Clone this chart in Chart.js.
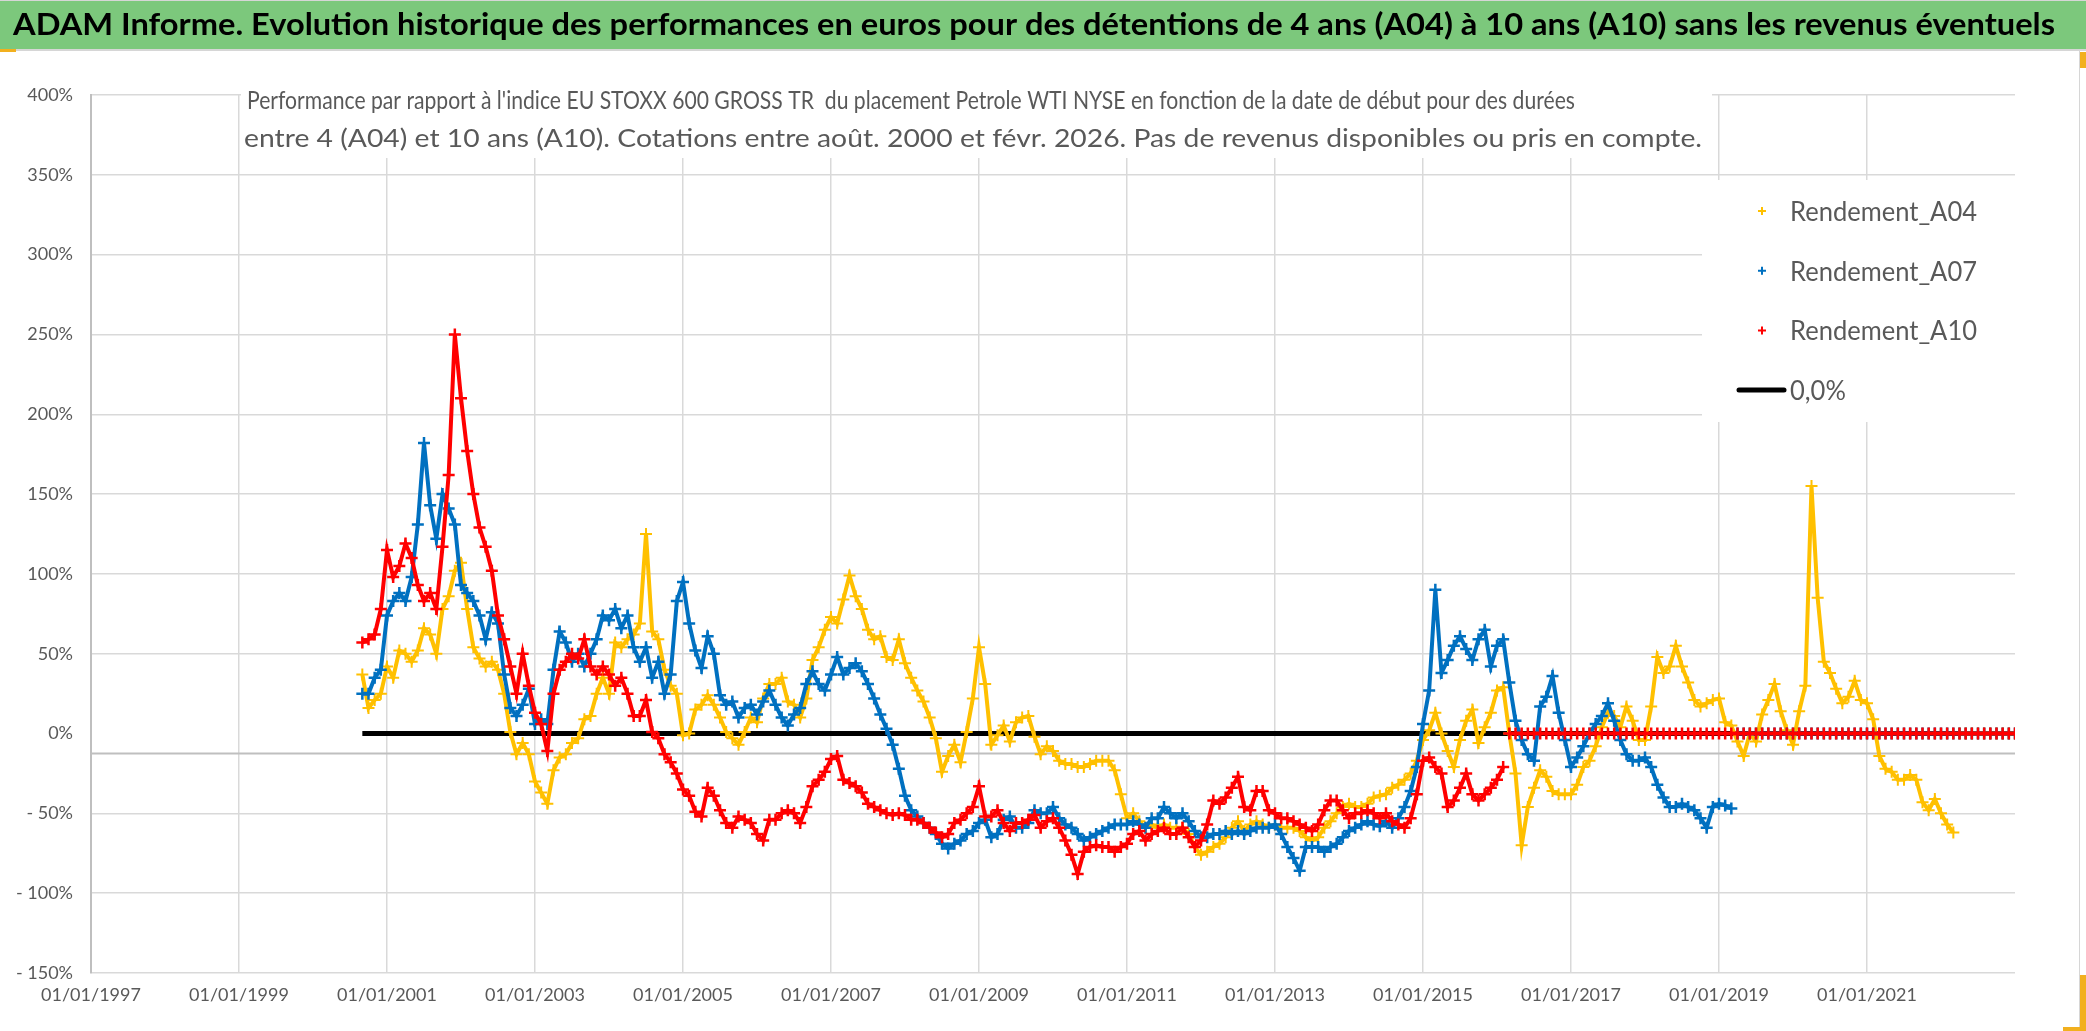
<!DOCTYPE html>
<html>
<head>
<meta charset="utf-8">
<script src="https://cdn.jsdelivr.net/npm/chart.js@4/dist/chart.umd.min.js"></script>
<style>
  html, body { margin: 0; padding: 0; background: #fff; }
  canvas { display: block; }
</style>
</head>
<body>
<canvas id="chart" width="2086" height="1031"></canvas>
<script>
// ─── Data (monthly readings, first value = Sept. 2000) ─────
const firstMonth = [2000, 9];
const xMin = 1997, xMax = 2023;
const xTickYears = [1997, 1999, 2001, 2003, 2005, 2007, 2009, 2011, 2013, 2015, 2017, 2019, 2021];
const yTicks = [-150, -100, -50, 0, 50, 100, 150, 200, 250, 300, 350, 400];

const a04 = [
  37, 16, 21, 25,
  42, 35, 52, 50, 45, 52, 66, 62, 50, 78, 86, 102,
  107, 78, 54, 47, 42, 45, 40, 25, 1, -13, -6, -13,
  -30, -37, -44, -23, -15, -13, -6, -3, 9, 11, 25, 35,
  25, 57, 54, 59, 62, 69, 125, 64, 59, 40, 30, 25,
  -1, 0, 15, 18, 24, 18, 10, 1, -3, -7, 1, 10,
  7, 22, 31, 31, 35, 20, 18, 10, 22, 46, 54, 65,
  73, 69, 84, 99, 86, 78, 65, 59, 61, 48, 46, 59,
  44, 35, 27, 20, 10, -3, -24, -14, -7, -18, 1, 22,
  54, 31, -7, -1, 5, -5, 7, 10, 11, -2, -13, -8,
  -11, -17, -19, -19, -21, -21, -19, -17, -17, -17, -23, -38,
  -53, -50, -55, -59, -57, -59, -57, -59, -59, -59, -63, -71,
  -76, -74, -71, -69, -65, -59, -55, -61, -57, -55, -57, -59,
  -57, -59, -59, -59, -61, -65, -67, -65, -59, -55, -50, -46,
  -44, -46, -46, -44, -40, -39, -38, -34, -32, -29, -25, -17,
  -4, 2, 13, 0, -11, -21, -4, 8, 15, -6, 4, 13,
  27, 29, 0, -25, -70, -46, -34, -23, -27, -36, -38, -38,
  -38, -32, -21, -17, -8, 4, 13, 11, 4, 17, 8, -4,
  -4, 17, 48, 38, 42, 55, 42, 32, 21, 17, 19, 21,
  22, 7, 5, -5, -14, 0, -5, 12, 21, 31, 14, 2,
  -7, 14, 30, 155, 85, 45, 38, 28, 19, 23, 33, 21,
  19, 9, -14, -22, -24, -29, -29, -26, -29, -43, -48, -41,
  -50, -57, -62, 0, 0, 0, 0, 0, 0, 0, 0, 0,
  0
];

const a07 = [
  25, 25, 35, 40,
  74, 83, 88, 83, 98, 131, 182, 143, 122, 150, 141, 131,
  93, 88, 83, 74, 59, 76, 69, 37, 16, 11, 18, 28,
  6, 9, 6, 40, 64, 57, 45, 50, 42, 50, 59, 74,
  71, 78, 66, 74, 54, 45, 54, 35, 45, 25, 37, 83,
  95, 69, 52, 41, 61, 50, 24, 18, 20, 10, 16, 18,
  12, 20, 27, 18, 10, 5, 12, 16, 31, 39, 31, 27,
  37, 48, 37, 41, 44, 39, 31, 22, 12, 3, -7, -22,
  -39, -48, -52, -56, -59, -63, -69, -72, -69, -67, -63, -61,
  -56, -54, -65, -63, -54, -52, -59, -59, -56, -48, -50, -50,
  -46, -53, -57, -59, -63, -67, -65, -63, -61, -59, -57, -57,
  -57, -55, -57, -59, -53, -53, -46, -50, -53, -50, -55, -61,
  -65, -65, -63, -63, -61, -63, -61, -63, -61, -59, -59, -59,
  -57, -63, -71, -78, -86, -71, -71, -71, -74, -71, -69, -65,
  -61, -59, -57, -55, -57, -58, -55, -59, -53, -46, -36, -21,
  6, 27, 90, 38, 46, 55, 61, 53, 46, 59, 65, 42,
  55, 59, 32, 8, -4, -13, -17, 17, 23, 36, 13, -4,
  -21, -15, -8, 0, 6, 11, 19, 8, -4, -13, -17, -17,
  -15, -21, -32, -40, -46, -46, -44, -46, -48, -53, -59, -46,
  -44, -45, -47, 0, 0, 0, 0, 0, 0, 0, 0, 0,
  0, 0, 0, 0, 0, 0, 0, 0, 0, 0, 0, 0,
  0, 0, 0, 0, 0, 0, 0, 0, 0, 0, 0, 0,
  0, 0, 0, 0, 0, 0, 0, 0, 0, 0, 0, 0,
  0
];

const a10 = [
  57, 59, 62, 78,
  115, 98, 105, 119, 110, 93, 83, 88, 78, 117, 162, 250,
  210, 177, 150, 129, 117, 102, 74, 59, 42, 25, 50, 30,
  13, 6, -11, 25, 40, 45, 50, 47, 59, 42, 37, 42,
  37, 30, 35, 25, 11, 11, 21, 1, -3, -13, -18, -25,
  -35, -39, -49, -52, -34, -39, -48, -56, -59, -52, -54, -56,
  -63, -67, -54, -54, -50, -48, -50, -56, -46, -33, -29, -24,
  -16, -14, -29, -31, -33, -37, -44, -46, -48, -50, -51, -50,
  -51, -54, -54, -56, -59, -62, -65, -63, -56, -54, -50, -46,
  -33, -52, -52, -48, -56, -61, -56, -56, -54, -51, -59, -55,
  -53, -59, -67, -76, -88, -74, -71, -70, -71, -71, -74, -71,
  -69, -63, -61, -67, -63, -61, -59, -63, -63, -59, -65, -71,
  -67, -57, -42, -44, -40, -34, -27, -46, -48, -36, -36, -48,
  -50, -53, -53, -55, -57, -59, -61, -57, -48, -42, -42, -48,
  -53, -50, -50, -48, -50, -53, -50, -55, -57, -59, -53, -38,
  -17, -15, -21, -25, -46, -42, -34, -25, -38, -42, -38, -34,
  -29, -21, 0, 0, 0, 0, 0, 0, 0, 0, 0, 0,
  0, 0, 0, 0, 0, 0, 0, 0, 0, 0, 0, 0,
  0, 0, 0, 0, 0, 0, 0, 0, 0, 0, 0, 0,
  0, 0, 0, 0, 0, 0, 0, 0, 0, 0, 0, 0,
  0, 0, 0, 0, 0, 0, 0, 0, 0, 0, 0, 0,
  0, 0, 0, 0, 0, 0, 0, 0, 0, 0, 0, 0,
  0, 0, 0, 0, 0, 0, 0, 0, 0, 0, 0, 0,
  0
];

const zeroLine = [0, 0];

const TITLE = "ADAM Informe. Evolution historique des performances en euros pour des détentions de 4 ans (A04) à 10 ans (A10) sans les revenus éventuels";
const SUBTITLE = [
  "Performance par rapport à l'indice EU STOXX 600 GROSS TR  du placement Petrole WTI NYSE en fonction de la date de début pour des durées",
  "entre 4 (A04) et 10 ans (A10). Cotations entre août. 2000 et févr. 2026. Pas de revenus disponibles ou pris en compte."
];

const COLORS = { a04: '#FFC000', a07: '#0070C0', a10: '#FF0000', zero: '#000000' };
const legendItems = [
  { label: 'Rendement_A04', color: COLORS.a04, type: 'cross' },
  { label: 'Rendement_A07', color: COLORS.a07, type: 'cross' },
  { label: 'Rendement_A10', color: COLORS.a10, type: 'cross' },
  { label: '0,0%', color: COLORS.zero, type: 'line' },
];

// ─── Helpers ───────────────────────────────────────────────
const monthX = i => firstMonth[0] + (firstMonth[1] - 1 + i) / 12;
const toPoints = arr => arr.map((v, i) => ({ x: monthX(i), y: v }));
// index of the last real quote before the trailing run of zeros
const lastQuote = arr => { let i = arr.length - 1; while (i > 0 && arr[i] === 0) i--; return i; };

function fitText(c, text, x, y, w) {
  const m = c.measureText(text).width;
  c.save();
  c.translate(x, y);
  c.scale(w / m, 1);
  c.fillText(text, 0, 0);
  c.restore();
}

// ─── Decorations (title bar, subtitle, legend, axis line) ──
const decor = {
  id: 'decor',
  beforeDraw(chart) {
    const c = chart.ctx;
    c.save();
    c.fillStyle = '#ffffff';
    c.fillRect(0, 0, chart.width, chart.height);
    c.fillStyle = '#7CC87C';
    c.fillRect(0, 0, chart.width, 49);
    c.fillStyle = '#D6D6D6';
    c.fillRect(0, 49, chart.width, 2);
    c.fillRect(0, 0, chart.width, 1);
    c.fillRect(2079, 51, 1, 980);
    c.fillStyle = '#000';
    c.font = 'bold 30px Lato';
    c.textBaseline = 'alphabetic';
    fitText(c, TITLE, 13, 35, 2042);
    // selection marks
    c.fillStyle = '#F2B01E';
    c.fillRect(0, 49, 16, 3);
    c.fillRect(2080, 52, 6, 16);
    c.fillRect(2080, 975, 6, 56);
    c.fillRect(2063, 1027, 23, 4);
    c.restore();
  },
  beforeDatasetsDraw(chart) {
    const c = chart.ctx, a = chart.chartArea, y = chart.scales.y.getPixelForValue(-12.5);
    c.save();
    c.strokeStyle = '#BFBFBF';
    c.lineWidth = 2;
    c.beginPath();
    c.moveTo(a.left, y);
    c.lineTo(a.right, y);
    c.stroke();
    c.restore();
  },
  afterDraw(chart) {
    const c = chart.ctx;
    c.save();
    // subtitle
    c.fillStyle = '#fff';
    c.fillRect(241, 92, 1471, 66);
    c.fillStyle = '#595959';
    c.font = '25px Lato';
    fitText(c, SUBTITLE[0], 247, 109, 1328);
    fitText(c, SUBTITLE[1], 244, 147, 1458);
    // legend
    c.fillStyle = '#fff';
    c.fillRect(1702, 180, 313, 242);
    c.font = '27px Lato';
    const s = 187 / c.measureText('Rendement_A04').width;
    legendItems.forEach((it, i) => {
      const cy = 211 + i * 59.7;
      if (it.type === 'cross') {
        c.strokeStyle = it.color;
        c.lineWidth = 2;
        c.beginPath();
        c.moveTo(1758, cy); c.lineTo(1766, cy);
        c.moveTo(1762, cy - 4); c.lineTo(1762, cy + 4);
        c.stroke();
      } else {
        c.strokeStyle = it.color;
        c.lineWidth = 5;
        c.lineCap = 'round';
        c.beginPath();
        c.moveTo(1739, cy); c.lineTo(1784, cy);
        c.stroke();
      }
      c.fillStyle = '#595959';
      const w = c.measureText(it.label).width * s;
      fitText(c, it.label, 1790, cy + 10, w);
    });
    c.restore();
  }
};

// ─── Chart ────────────────────────────────────────────────
const seriesStyle = (color, arr) => {
  const cut = lastQuote(arr);
  return {
    data: toPoints(arr),
    borderColor: color,
    backgroundColor: color,
    pointStyle: 'cross',
    pointRadius: 6,
    pointBorderWidth: 2.5,
    pointHoverRadius: 6,
    showLine: true,
    borderWidth: 4,
    segment: { borderColor: ctx => (ctx.p0DataIndex === cut ? 'rgba(0,0,0,0)' : undefined) },
  };
};

new Chart(document.getElementById('chart'), {
  type: 'scatter',
  data: {
    datasets: [
      { label: 'Rendement_A04', ...seriesStyle(COLORS.a04, a04), pointBorderWidth: 2, order: 3 },
      { label: 'Rendement_A07', ...seriesStyle(COLORS.a07, a07), order: 2 },
      { label: 'Rendement_A10', ...seriesStyle(COLORS.a10, a10), order: 1 },
      {
        label: '0,0%',
        data: [{ x: monthX(0), y: zeroLine[0] }, { x: xMax, y: zeroLine[1] }],
        borderColor: COLORS.zero, borderWidth: 5, pointRadius: 0, showLine: true, order: 4,
      },
    ],
  },
  options: {
    responsive: false,
    animation: false,
    devicePixelRatio: 1,
    layout: { padding: { top: 95, right: 71, left: 0, bottom: 0 } },
    plugins: { legend: { display: false }, tooltip: { enabled: false } },
    scales: {
      x: {
        type: 'linear', min: xMin, max: xMax,
        afterBuildTicks: s => { s.ticks = xTickYears.map(v => ({ value: v })); },
        afterFit: s => { s.height = 58; },
        grid: { color: '#D9D9D9', lineWidth: 1.5, drawTicks: false },
        border: { display: false },
        ticks: {
          padding: 11, color: '#595959', maxRotation: 0, autoSkip: false,
          font: { family: 'Lato', size: 18 },
          callback: v => '01/01/' + v,
        },
      },
      y: {
        min: -150, max: 400,
        afterBuildTicks: s => { s.ticks = yTicks.map(v => ({ value: v })); },
        afterFit: s => { s.width = 91; },
        grid: {
          color: ctx => (ctx.tick && ctx.tick.value === 0 ? 'rgba(0,0,0,0)' : '#D9D9D9'),
          lineWidth: 1.5, drawTicks: false,
        },
        border: { color: '#BFBFBF', width: 2 },
        ticks: {
          padding: 18, color: '#595959',
          font: { family: 'Lato', size: 18 },
          callback: v => (v < 0 ? '- ' + (-v) + '%' : v + '%'),
        },
      },
    },
  },
  plugins: [decor],
});
</script>
</body>
</html>
